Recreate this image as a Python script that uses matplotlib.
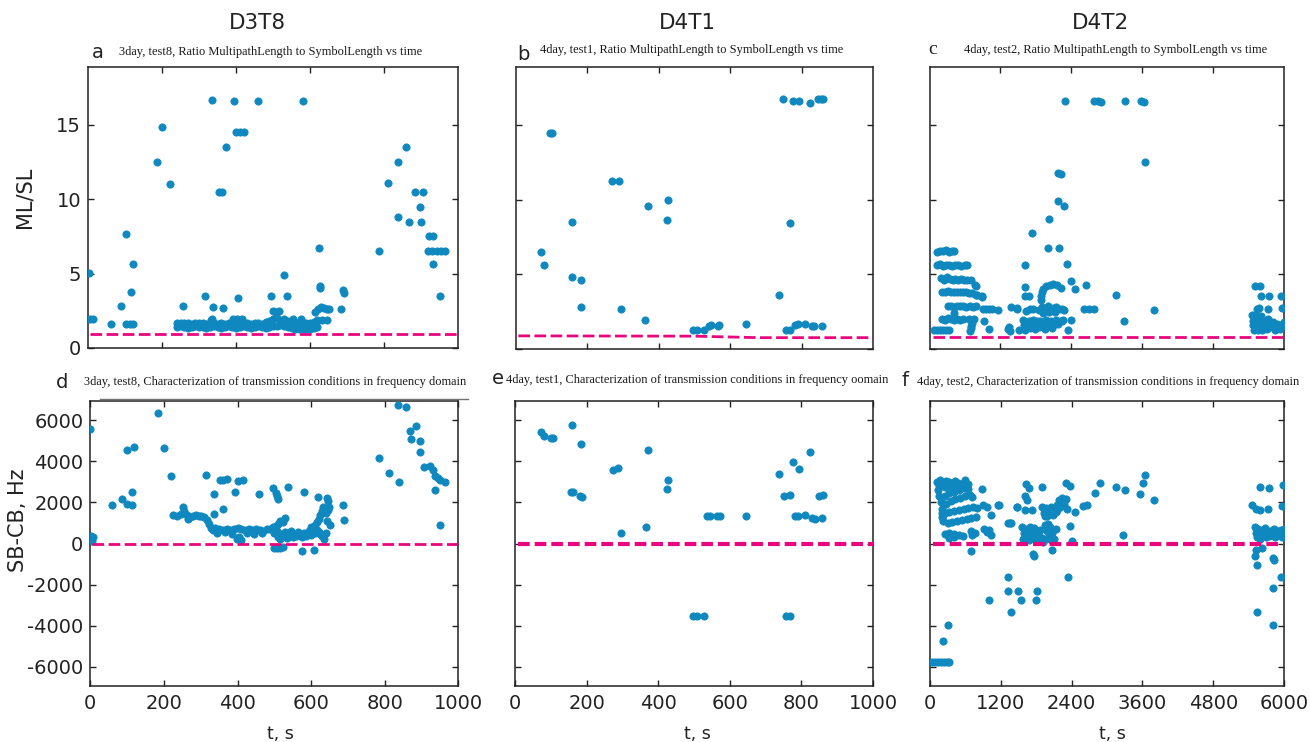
import matplotlib
matplotlib.use("Agg")
import matplotlib.pyplot as plt
from matplotlib.lines import Line2D

plt.rcParams["axes.unicode_minus"] = False

# ---------------- data ----------------
col_headers = ["D3T8", "D4T1", "D4T2"]
letters = ["a", "b", "c", "d", "e", "f"]
subtitles = [
    "3day, test8, Ratio MultipathLength to SymbolLength vs time",
    "4day, test1, Ratio MultipathLength to SymbolLength vs time",
    "4day, test2, Ratio MultipathLength to SymbolLength vs time",
    "3day, test8, Characterization of transmission conditions in frequency domain",
    "4day, test1, Characterization of transmission conditions in frequency oomain",
    "4day, test2, Characterization of transmission conditions in frequency domain",
]

# Panel a: ML/SL vs t (D3T8)
a_pts = [(3, 5.03), (5, 1.95), (13, 1.95), (61, 1.62), (90, 2.83), (103, 7.65), (103, 1.62),
         (113, 1.62), (122, 1.62), (115, 3.75), (122, 5.63), (187, 12.5), (199, 14.84), (222, 11.0),
         (256, 2.83), (317, 3.52), (336, 16.65), (337, 2.76), (336, 1.95), (353, 10.5), (363, 10.5),
         (364, 2.67), (372, 13.5), (395, 16.6), (399, 14.5), (410, 14.5), (422, 14.5), (405, 3.39),
         (393, 1.95), (404, 1.95), (415, 1.95), (460, 16.6), (495, 3.48), (500, 2.5), (508, 2.45),
         (517, 2.5), (530, 4.9), (539, 3.48), (555, 1.95), (577, 1.95), (582, 16.6), (625, 6.7),
         (627, 4.2), (628, 4.05), (614, 2.45), (622, 2.6), (630, 2.75), (638, 2.7), (645, 2.65),
         (652, 2.65), (620, 1.85), (632, 1.85), (645, 1.85), (685, 2.6), (689, 3.9), (692, 3.7),
         (333, 1.9), (786, 6.5), (812, 11.1), (837, 12.5), (837, 8.8), (859, 13.5), (868, 8.5),
         (884, 10.5), (896, 9.5), (899, 8.5), (906, 10.5), (922, 7.5), (933, 7.5), (933, 5.63),
         (918, 6.55), (930, 6.55), (942, 6.5), (953, 6.55), (965, 6.55), (951, 3.52)]
a_band_t = [240, 250, 260, 270, 280, 290, 300, 310, 320, 330, 340, 350, 360, 370, 380, 390, 400,
            410, 420, 430, 440, 450, 460, 470, 480, 490, 500, 510, 520, 530, 540, 550, 560, 570,
            580, 590, 600, 610, 620]
a_band_v1 = [1.65, 1.7, 1.65, 1.7, 1.6, 1.65, 1.7, 1.65, 1.6, 1.7, 1.65, 1.6, 1.65, 1.6, 1.65,
             1.7, 1.6, 1.65, 1.6, 1.65, 1.6, 1.7, 1.65, 1.6, 1.75, 1.8, 1.95, 2.0, 1.9, 1.95, 1.8,
             1.7, 1.6, 1.65, 1.7, 1.65, 1.7, 1.75, 1.8]
a_band_v2 = [1.4, 1.45, 1.4, 1.35, 1.4, 1.45, 1.4, 1.4, 1.35, 1.4, 1.45, 1.4, 1.35, 1.4, 1.45,
             1.4, 1.35, 1.4, 1.45, 1.4, 1.35, 1.4, 1.45, 1.4, 1.35, 1.4, 1.45, 1.5, 1.55, 1.45,
             1.4, 1.35, 1.3, 1.25, 1.3, 1.25, 1.3, 1.35, 1.4]
a_ref_t = [5, 1000]
a_ref_v = [0.94, 0.94]

# Panel b: ML/SL vs t (D4T1)
b_pts = [(71, 6.5), (80, 5.6), (97, 14.5), (102, 14.5), (159, 8.5), (157, 4.8), (184, 4.6),
         (182, 2.8), (271, 11.25), (289, 11.25), (296, 2.7), (370, 9.6), (362, 1.93), (427, 9.97),
         (425, 8.66), (497, 1.28), (509, 1.28), (527, 1.28), (540, 1.57), (546, 1.6), (566, 1.57),
         (570, 1.6), (646, 1.66), (736, 3.64), (748, 16.77), (757, 1.28), (768, 1.28), (768, 8.44),
         (777, 16.6), (794, 16.65), (783, 1.6), (791, 1.66), (810, 1.66), (825, 16.5), (830, 1.57),
         (835, 1.57), (847, 16.77), (855, 16.77), (861, 16.77), (856, 1.57)]
b_ref_t = [8, 500, 680, 1000]
b_ref_v = [0.88, 0.86, 0.76, 0.76]

# Panel c: ML/SL vs t (D4T2)
c_pts = [
    # rows of the early cluster
    (130, 6.5), (180, 6.6), (230, 6.55), (280, 6.65), (330, 6.5), (380, 6.6), (420, 6.55),
    (130, 5.6), (180, 5.7), (230, 5.55), (280, 5.65), (330, 5.6), (380, 5.55), (430, 5.65),
    (480, 5.6), (530, 5.55), (600, 5.6), (640, 5.65),
    (190, 4.75), (240, 4.65), (290, 4.8), (340, 4.7), (390, 4.65), (440, 4.7), (490, 4.65),
    (540, 4.7), (590, 4.6), (640, 4.65), (700, 4.6), (784, 4.24),
    (220, 3.85), (270, 3.8), (320, 3.9), (370, 3.8), (420, 3.85), (470, 3.8), (520, 3.8),
    (570, 3.85), (620, 3.8), (670, 3.75), (720, 3.75), (780, 3.65), (812, 3.6), (886, 3.52),
    (320, 2.85), (370, 2.9), (420, 2.8), (470, 2.85), (520, 2.9), (570, 2.85), (620, 2.8),
    (680, 2.85), (740, 2.8), (784, 2.85), (900, 2.65), (950, 2.7), (1000, 2.65), (1060, 2.7),
    (1168, 2.63),
    (220, 2.0), (270, 1.95), (320, 2.05), (370, 2.0), (420, 1.95), (470, 2.0), (520, 1.95),
    (560, 2.0), (416, 2.4), (670, 2.0), (710, 1.95), (756, 2.0), (925, 1.88), (700, 1.55),
    (720, 1.75),
    (77, 1.28), (130, 1.28), (180, 1.3), (230, 1.28), (280, 1.3), (331, 1.28), (700, 1.39),
    (690, 1.22), (1010, 1.33), (778, 4.26), (885, 3.5),
    # middle cluster
    (1333, 1.35), (1340, 1.5), (1365, 1.23), (1385, 2.8), (1475, 2.75), (1491, 2.67),
    (1519, 1.3), (1615, 4.13), (1615, 3.55), (1694, 3.55), (1626, 5.6), (1740, 7.8),
    (2022, 8.7), (2005, 6.8), (2198, 6.75), (2186, 11.8), (2226, 11.7), (2175, 9.9),
    (2288, 9.6), (2305, 16.6), (2334, 5.7), (2390, 4.53), (2470, 4.04), (2650, 4.26),
    (1887, 3.53), (1890, 3.3), (1900, 3.8), (1930, 4.0), (1980, 4.2), (2040, 4.3), (2100, 4.35),
    (2160, 4.3), (2226, 4.1), (1632, 2.57), (1700, 2.65), (1746, 2.67),
    (1860, 2.6), (1900, 2.8), (1950, 2.7), (2000, 2.85), (2050, 2.6), (2100, 2.75), (2150, 2.8),
    (2200, 2.65), (2250, 2.7), (2283, 2.6), (1920, 2.4), (2020, 2.45), (2120, 2.5),
    (1580, 1.95), (1600, 1.6), (1620, 1.8), (1650, 1.5), (1680, 1.9), (1700, 1.4), (1730, 1.7),
    (1760, 1.95), (1790, 1.35), (1800, 1.6), (1830, 1.85), (1860, 1.5), (1880, 1.9),
    (1900, 1.65), (1930, 1.45), (1950, 1.8), (1980, 1.95), (2000, 1.55), (2030, 1.75),
    (2060, 1.9), (2090, 1.6), (2120, 1.85), (2150, 1.95), (2180, 1.7), (2210, 1.9),
    (2240, 1.85), (2255, 1.95), (1620, 1.3), (1720, 1.5), (1960, 1.35), (2080, 1.4),
    (2340, 1.3), (2396, 1.95), (2611, 2.65), (2700, 2.65), (2792, 2.65), (3154, 3.6),
    (3290, 1.9), (3799, 2.63),
    (2792, 16.6), (2850, 16.6), (2907, 16.55), (3307, 16.65), (3589, 16.6), (3630, 16.55),
    (3657, 12.55),
    # late cluster
    (5524, 4.24), (5598, 4.2), (5620, 3.52), (5761, 3.52), (5965, 3.57), (5552, 2.67),
    (5580, 2.74), (5744, 2.67), (5970, 2.74),
    (5470, 2.3), (5480, 1.9), (5490, 1.6), (5500, 2.1), (5520, 1.8), (5540, 2.2), (5560, 1.5),
    (5580, 2.0), (5600, 1.7), (5620, 2.2), (5640, 1.6), (5660, 1.9), (5680, 1.5), (5700, 1.8),
    (5720, 1.6), (5740, 2.0), (5760, 1.45), (5780, 1.7), (5800, 1.55), (5830, 1.8),
    (5860, 1.5), (5890, 1.7), (5920, 1.45), (5950, 1.6), (5980, 1.55), (6000, 1.8),
    (5500, 1.3), (5560, 1.25), (5640, 1.3), (5720, 1.35), (5850, 1.3), (5940, 1.35)]
c_ref_t = [65, 6000]
c_ref_v = [0.83, 0.83]

# Panel d: SB-CB vs t (D3T8)
d_pts = [(0, 5577), (2, 374), (8, 341), (4, 146), (59, 1886), (87, 2179), (101, 4553), (101, 1918),
         (112, 1886), (113, 2504), (119, 4715), (185, 6358), (199, 4667), (220, 3285), (315, 3333),
         (336, 2390), (336, 1447), (351, 3090), (360, 3120), (370, 3155), (360, 1707), (394, 2504),
         (401, 3024), (415, 3073), (457, 2423), (495, 2730), (503, 2450), (508, 2300), (511, 2160),
         (537, 2780), (581, 2504), (618, 2244), (576, -390), (608, -309), (642, 2211), (646, 2049),
         (687, 1886), (689, 1122), (784, 4179), (812, 3447), (837, 6732), (838, 2976), (857, 6634),
         (868, 5463), (870, 5089), (884, 5707), (895, 4975), (896, 4455), (907, 3707), (923, 3789),
         (931, 3593), (936, 3300), (945, 3187), (936, 2618), (949, 3105), (963, 2976), (951, 910),
         # dense band
         (225, 1400), (235, 1350), (245, 1450), (252, 1800), (255, 1600), (262, 1400), (270, 1300),
         (278, 1350), (286, 1400), (294, 1350), (302, 1350), (310, 1300), (265, 1200),
         (316, 1150), (322, 950), (328, 750), (334, 650),
         (340, 750), (350, 700), (360, 650), (370, 700), (380, 650), (390, 700), (400, 750),
         (410, 700), (420, 650), (430, 700), (440, 650), (450, 700), (460, 650), (470, 600),
         (480, 700), (345, 500), (365, 550), (385, 480), (405, 300), (410, 150), (398, 200),
         (425, 500), (445, 480), (465, 500),
         (488, 700), (495, 800), (503, 850), (506, 600), (510, 950), (515, 1100), (522, 1050),
         (528, 1240), (500, 500),
         (510, 300), (515, 200), (520, 450), (525, 350), (530, 550), (535, 250), (540, 400),
         (545, 600), (550, 300), (555, 450), (560, 350), (565, 550), (570, 400), (575, 300),
         (580, 500), (585, 350), (590, 450), (595, 600), (600, 400), (605, 550), (610, 500),
         (615, 650), (620, 550), (625, 450), (630, 350), (635, 200), (640, 500),
         (500, -200), (508, -220), (516, -200), (524, -180),
         (600, 800), (610, 900), (615, 1050), (620, 1200), (625, 1400), (628, 1600), (632, 1800),
         (636, 1700), (640, 1500), (645, 1650), (648, 1800), (650, 900), (642, 1073)]
d_ref_t = [5, 1000]
d_ref_v = [0, 0]

# Panel e: SB-CB vs t (D4T1)
e_pts = [(73, 5447), (81, 5252), (101, 5154), (107, 5138), (158, 5756), (156, 2520), (161, 2520),
         (185, 4829), (182, 2293), (186, 2244), (273, 3561), (289, 3675), (297, 488), (365, 813),
         (372, 4569), (426, 3089), (425, 2634), (498, -3528), (509, -3528), (528, -3528),
         (535, 1317), (545, 1317), (565, 1317), (573, 1317), (644, 1350), (737, 3366), (750, 2325),
         (768, 2374), (757, -3528), (768, -3528), (777, 3984), (793, 3626), (782, 1350),
         (791, 1350), (810, 1382), (825, 4455), (829, 1236), (838, 1187), (850, 2325), (861, 2374),
         (857, 1236)]
e_ref_t = [9, 1000]
e_ref_v = [0, 0]

# Panel f: SB-CB vs t (D4T2)
f_pts = [(30, -5772), (80, -5772), (130, -5772), (180, -5772), (230, -5772), (280, -5772),
         (330, -5772), (215, -4748), (300, -3967), (1006, -2748), (1328, -1610), (1328, -2341),
         (1367, -3317), (1497, -2341), (1542, -2748), (1808, -2341), (1797, -2748), (2345, -1610),
         (5537, -3317), (5808, -3967), (5820, -2179), (5950, -1610), (689, -390), (1763, -634),
         (1740, -500), (2062, -309), (2401, 98), (3277, 423),
         (881, 2667), (1158, 1886), (1028, 1366), (1469, 1772), (1328, 1024), (1367, 992),
         (1621, 2894), (1684, 2700), (1616, 2325), (1650, 2130), (1610, 1642), (1723, 1610),
         (1893, 2732), (2305, 2943), (2373, 2813), (2882, 2943), (3153, 2748), (3305, 2618),
         (3644, 3317), (3616, 2943), (3560, 2423), (3797, 2130), (2797, 2455), (2599, 1805),
         (2655, 1886), (2458, 1528), (2373, 862),
         (2150, 1900), (2180, 2100), (2210, 1800), (2240, 2200), (2270, 1950), (2300, 2150),
         (2317, 1700), (2160, 1650),
         (1930, 1500), (1960, 1750), (1990, 1350), (2020, 1600), (2050, 1800), (2080, 1400),
         (2110, 1700), (2140, 1550), (1900, 1800), (1950, 1320),
         (1560, 800), (1590, 500), (1620, 300), (1650, 700), (1680, 150), (1710, 550), (1740, 350),
         (1770, 750), (1800, 100), (1830, 450), (1860, 650), (1890, 250), (1920, 50), (1580, 200),
         (1700, 800), (1850, 300),
         (1950, 900), (1980, 600), (2010, 300), (2040, 800), (2070, 500), (2100, 200), (2130, 700),
         (2000, 950), (2060, 100), (1960, 200),
         (5452, 1886), (5520, 1700), (5593, 1642), (5593, 2748), (5746, 2700), (5977, 2829),
         (5960, 1837), (5723, 1675),
         (5500, 800), (5520, 500), (5540, 300), (5560, 700), (5580, 450), (5600, 200), (5620, 650),
         (5650, 500), (5680, 750), (5710, 550), (5740, 350), (5770, 600), (5800, 450), (5830, 700),
         (5860, 500), (5890, 600), (5920, 400), (5950, 650), (5980, 500), (6000, 700), (5700, 300),
         (5850, 300), (5960, 300),
         (5508, -634), (5537, -1041), (5520, -300), (5808, -715), (5830, -829), (5621, -228),
         # early cluster
         (120, 3000), (170, 3100), (220, 2950), (270, 3050), (320, 3000), (370, 2900), (420, 3050),
         (470, 2950), (520, 2900), (150, 2800), (250, 2750), (350, 2800), (450, 2700), (140, 2600),
         (160, 2300), (180, 2000), (200, 1700), (220, 1400), (200, 1300), (220, 1100), (210, 1500),
         (600, 3100), (650, 2900),
         (250, 2300), (330, 2450), (410, 2500), (490, 2600), (570, 2700), (650, 2650),
         (270, 1950), (350, 2050), (430, 2150), (510, 2200), (590, 2300), (670, 2350), (720, 2250),
         (250, 1500), (330, 1550), (410, 1600), (490, 1650), (570, 1700), (650, 1750), (730, 1800),
         (790, 1750),
         (300, 1000), (380, 1050), (460, 1100), (540, 1150), (620, 1200), (700, 1250), (780, 1300),
         (250, 450), (330, 500), (410, 450), (490, 400), (560, 350), (320, 250), (400, 300),
         (690, 600), (720, 400), (760, 500), (920, 700), (960, 550), (1040, 400), (1000, 650),
         (904, 1886), (960, 1770), (1175, 1886), (1356, 1024), (1480, 1772)]
f_ref_t = [56, 6000]
f_ref_v = [0, 0]

# ---------------- styling ----------------
BLUE = "#0E88BF"
PINK = "#E8067F"
W, H = 1310, 742

fig = plt.figure(figsize=(W / 100, H / 100), dpi=100)


def rect(l, t, r, b):
    return [l / W, 1 - b / H, (r - l) / W, (b - t) / H]


rects = [rect(88, 67, 458, 348), rect(515.5, 67, 873, 349), rect(929.5, 67, 1283.5, 349),
         rect(90.3, 401, 458.5, 686), rect(515, 401, 873, 686), rect(930, 401, 1284, 686)]

panel_pts = [a_pts, b_pts, c_pts, d_pts, e_pts, f_pts]
refs = [(a_ref_t, a_ref_v, 2.0), (b_ref_t, b_ref_v, 2.0), (c_ref_t, c_ref_v, 2.0),
        (d_ref_t, d_ref_v, 2.0), (e_ref_t, e_ref_v, 3.0), (f_ref_t, f_ref_v, 3.0)]

axes = []
for i, r in enumerate(rects):
    ax = fig.add_axes(r)
    axes.append(ax)
    pts = panel_pts[i]
    ax.plot([p[0] for p in pts], [p[1] for p in pts], linestyle="none", marker="o",
            ms=5.2, mfc=BLUE, mec=BLUE, mew=0.6, zorder=3)
    if i == 0:
        ax.plot(a_band_t, a_band_v1, linestyle="none", marker="o", ms=5.2, mfc=BLUE, mec=BLUE,
                mew=0.6, zorder=3)
        ax.plot(a_band_t, a_band_v2, linestyle="none", marker="o", ms=5.2, mfc=BLUE, mec=BLUE,
                mew=0.6, zorder=3)
    rt, rv, lw = refs[i]
    dash = (4.2, 1.6) if lw == 2.0 else (2.8, 1.2)
    ax.plot(rt, rv, color=PINK, lw=lw, dashes=dash, zorder=4)

    for s in ax.spines.values():
        s.set_linewidth(1.1)
        s.set_color("#222222")
    ax.tick_params(direction="in", top=True, right=True, length=4, width=1.0,
                   labelsize=14, colors="#222222")
    ax.tick_params(axis="x", pad=6)
    ax.tick_params(axis="y", pad=5)

    xmax = 6000 if i in (2, 5) else 1000
    ax.set_xlim(0, xmax)
    if i < 3:
        ax.set_ylim(0, 18.9)
        ax.set_yticks([0, 5, 10, 15])
        if xmax == 6000:
            ax.set_xticks([1200, 2400, 3600, 4800])
        else:
            ax.set_xticks([200, 400, 600, 800])
        ax.set_xticklabels([])
    else:
        ax.set_ylim(-6950, 6950)
        ax.set_yticks([-6000, -4000, -2000, 0, 2000, 4000, 6000])
        if xmax == 6000:
            ax.set_xticks([0, 1200, 2400, 3600, 4800, 6000])
        else:
            ax.set_xticks([0, 200, 400, 600, 800, 1000])
    if i not in (0, 3):
        ax.set_yticklabels([])

# column headers
for x, txt in zip([257, 687, 1100], col_headers):
    fig.text(x / W, 1 - 23 / H, txt, ha="center", va="center", fontsize=15.5, color="#222222")

# panel letters
letter_pos = [(98, 52), (523, 55), (933, 50), (62, 383), (498, 378), (905, 380)]
for (x, y), L in zip(letter_pos, letters):
    fam = "Liberation Serif" if L == "c" else "DejaVu Sans"
    fig.text(x / W, 1 - y / H, L, ha="center", va="center", fontsize=14, family=fam,
             color="#222222")

# subtitles
sub_pos = [(271, 52, "center"), (692, 50, "center"), (1116, 50, "center"),
           (275, 382, "center"), (697, 380, "center"), (917, 382, "left")]
for (x, y, ha), s in zip(sub_pos, subtitles):
    fig.text(x / W, 1 - y / H, s, ha=ha, va="center", fontsize=8.9, family="Liberation Serif",
             color="#1a1a1a")

# axis labels
fig.text(25 / W, 1 - 197 / H, "ML/SL", rotation=90, ha="center", va="center", fontsize=15,
         color="#222222")
fig.text(18 / W, 1 - 520 / H, "SB-CB, Hz", rotation=90, ha="center", va="center", fontsize=15,
         color="#222222")
for x in [280, 697, 1112]:
    fig.text(x / W, 1 - 734 / H, "t, s", ha="center", va="center", fontsize=12.5, color="#222222")

# stray frame line above panel d
fig.add_artist(Line2D([100 / W, 468 / W], [1 - 399 / H, 1 - 399 / H], color="0.45", lw=1.0))

fig.savefig("out.png", dpi=100, facecolor="white")
